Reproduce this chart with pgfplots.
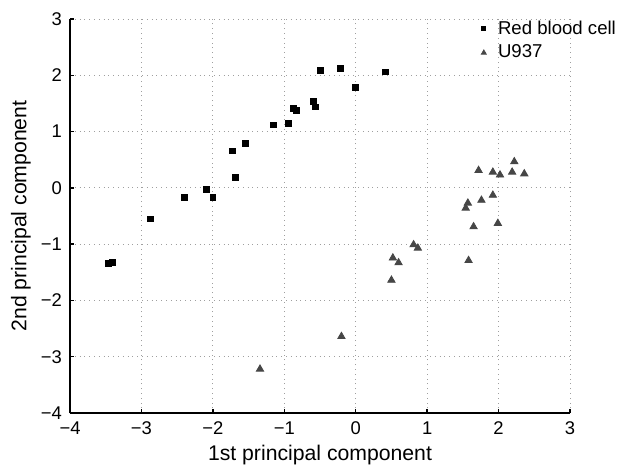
\documentclass[border=0pt]{standalone}
\usepackage{pgfplots}
\pgfplotsset{compat=1.18}
\usepackage{fontspec}
\setmainfont{Liberation Sans}
\definecolor{tri}{RGB}{70,70,70}
\begin{document}
\fontsize{9.3}{11}\selectfont
\begin{tikzpicture}
\begin{axis}[
 name=ax,
 scale only axis, width=250pt, height=197pt,
 xmin=-4,xmax=3,ymin=-4,ymax=3,
 xtick={-4,-3,-2,-1,0,1,2,3}, ytick={-4,-3,-2,-1,0,1,2,3},
 xticklabels={−4,−3,−2,−1,0,1,2,3},
 yticklabels={−4,−3,−2,−1,0,1,2,3},
 axis lines*=left,
 axis line style={line width=0.9pt},
 tick align=inside, major tick length=2.2pt, tick style={line width=0.7pt, black},
 grid=major, grid style={dotted, gray!75, line width=0.45pt},
 ticklabel style={font=\fontsize{9.2}{10}\selectfont},
 xticklabel style={yshift=-1pt},
 yticklabel style={xshift=-0.8pt},
 xlabel={1st principal component}, ylabel={2nd principal component},
 label style={font=\fontsize{10.6}{12}\selectfont},
 xlabel style={at={(axis description cs:0.5,0)}, anchor=center, yshift=-21pt},
 ylabel style={at={(axis description cs:0,0.5)}, anchor=center, yshift=24.5pt},
 legend style={at={(0.818,1.0)}, anchor=north west, draw=none, fill=none,
   font=\fontsize{9.3}{11}\selectfont, row sep=0pt, inner sep=1pt, yshift=2.4pt},
 legend cell align=left,
 legend image code/.code={\draw[#1] plot coordinates {(0pt,0pt)}; \node[inner sep=0pt, minimum size=0pt, draw=none, fill=none] at (4.9pt,0pt) {};},
]
\addplot[only marks, mark=square*, mark size=1.45pt, black,
  legend image post style={mark size=1.0pt}] coordinates {
(-3.46,-1.34) (-3.41,-1.32) (-2.88,-0.55) (-2.40,-0.17) (-2.09,-0.03) (-2.00,-0.17)
(-1.73,0.655) (-1.69,0.18) (-1.55,0.785) (-1.15,1.12) (-0.94,1.15) (-0.87,1.41)
(-0.83,1.37) (-0.59,1.54) (-0.56,1.44) (-0.50,2.09) (-0.21,2.12) (-0.01,1.79) (0.41,2.06)
};
\addlegendentry{Red blood cell}
\addplot[only marks, mark=triangle*, mark size=2.1pt, tri,
  legend image post style={mark size=1.4pt}] coordinates {
(1.72,0.31) (1.92,0.28) (2.02,0.23) (2.22,0.465) (2.19,0.28) (2.36,0.25)
(1.92,-0.13) (1.76,-0.22) (1.57,-0.27) (1.54,-0.36) (1.65,-0.69) (1.99,-0.63)
(0.81,-1.01) (0.87,-1.07) (0.52,-1.245) (0.60,-1.33) (1.58,-1.29) (0.50,-1.64)
(-0.20,-2.64) (-1.34,-3.22)
};
\addlegendentry{U937}
\end{axis}
\pgfresetboundingbox
\path ([shift={(-35pt,-25.5pt)}]ax.south west) rectangle ([shift={(23.5pt,9.5pt)}]ax.north east);
\end{tikzpicture}
\end{document}
